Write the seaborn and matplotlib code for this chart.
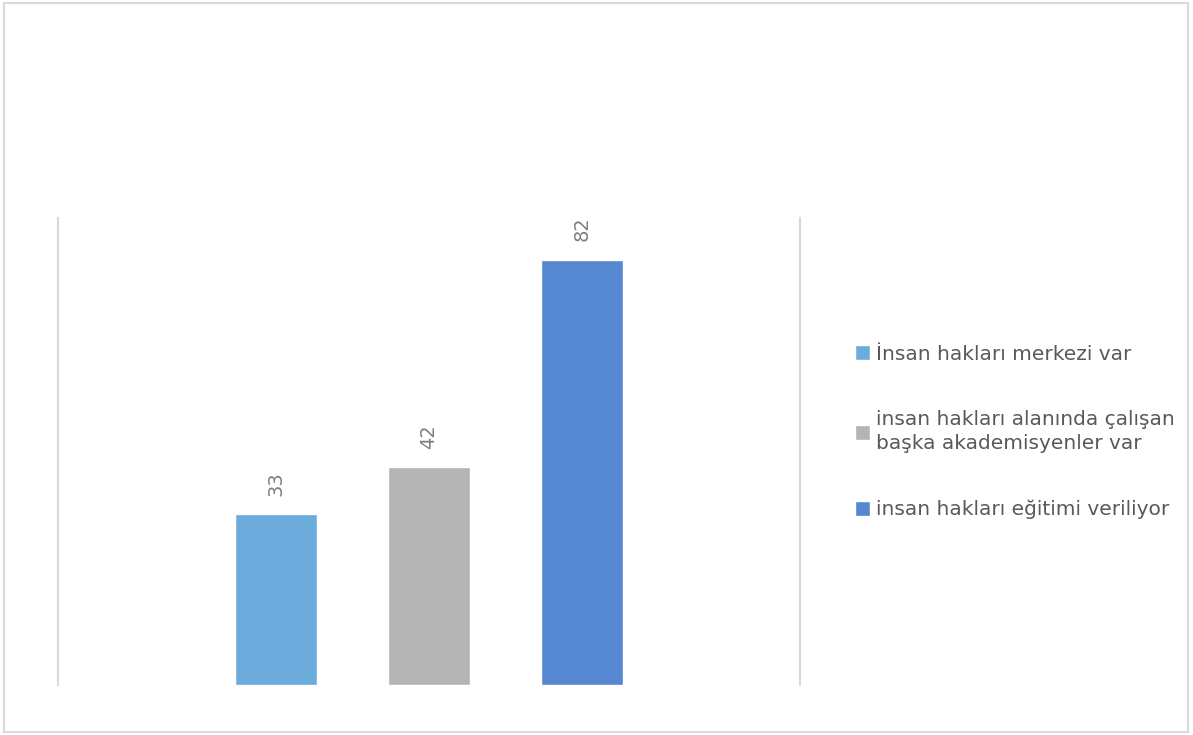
import matplotlib
matplotlib.use('Agg')
import matplotlib.pyplot as plt
from matplotlib.patches import Rectangle
import seaborn as sns
import pandas as pd

series = ['İnsan hakları merkezi var',
          'insan hakları alanında çalışan\nbaşka akademisyenler var',
          'insan hakları eğitimi veriliyor']
values = [33, 42, 82]
colors = ['#6CACDC', '#B4B4B4', '#5588D0']

df = pd.DataFrame({'seri': series, 'deger': values})

sns.set_style('white')
plt.rcParams['font.family'] = ['DejaVu Sans']

fig = plt.figure(figsize=(11.93, 7.35), dpi=100)
ax = fig.add_axes([58 / 1193, 1 - 685 / 735, 742 / 1193, 467 / 735])

sns.barplot(data=df, x='seri', y='deger', hue='seri', palette=colors,
            saturation=1, width=0.53, legend=True, ax=ax)

ax.set_xlim(-1.425, 3.425)
ax.set_ylim(0, 90)
ax.set_xlabel('')
ax.set_ylabel('')
ax.set_xticks([])
ax.set_yticks([])

for side in ['top', 'bottom']:
    ax.spines[side].set_visible(False)
for side in ['left', 'right']:
    ax.spines[side].set_color('#D9D9D9')
    ax.spines[side].set_linewidth(1.5)

for cont in ax.containers:
    for bar in cont:
        h = bar.get_height()
        ax.annotate(f'{h:.0f}', (bar.get_x() + bar.get_width() / 2, h),
                    xytext=(0, 13), textcoords='offset points',
                    rotation=90, ha='center', va='bottom',
                    fontsize=14, color='#7F7F7F')

leg = ax.legend(loc='center left', bbox_to_anchor=(855 / 1193, 1 - 432 / 735),
                bbox_transform=fig.transFigure, frameon=False,
                fontsize=14.5, labelcolor='#595959',
                handlelength=0.75, handleheight=0.75, handletextpad=0.3,
                labelspacing=2.3, borderaxespad=0, borderpad=0)
for t in leg.get_texts():
    t.set_linespacing(1.35)

# light frame around the whole picture
fig.patches.append(Rectangle((4 / 1193, 3 / 735), 1184 / 1193, 729 / 735,
                             transform=fig.transFigure, fill=False,
                             edgecolor='#D9D9D9', linewidth=1.5))

fig.savefig('out.png', dpi=100)
